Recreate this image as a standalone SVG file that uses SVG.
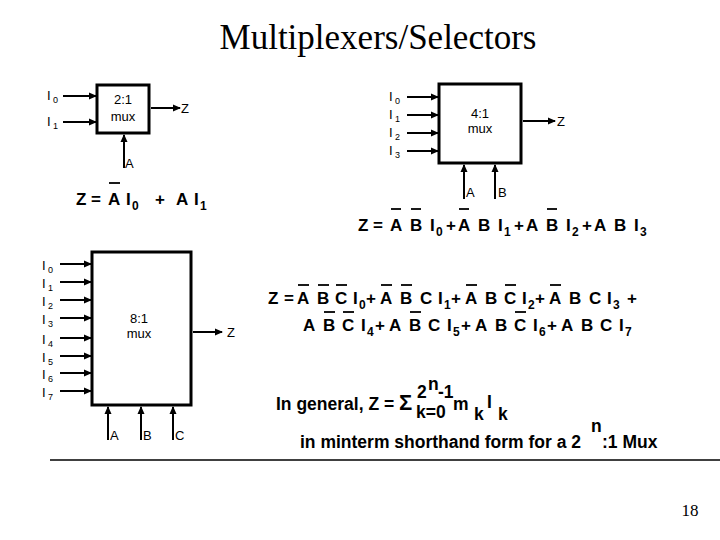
<svg xmlns="http://www.w3.org/2000/svg" width="720" height="540" viewBox="0 0 720 540">
<defs>
<marker id="ah" markerWidth="8" markerHeight="8" refX="7" refY="4" orient="auto" markerUnits="userSpaceOnUse"><path d="M0,0.5 L8,4 L0,7.5z" fill="#000"/></marker>
<style>
.box{fill:#fff;stroke:#000;stroke-width:3}
.w{stroke:#000;stroke-width:2;marker-end:url(#ah)}
.lb{font-family:"Liberation Sans",Arial,sans-serif;font-size:13px;fill:#000}
.sb{font-family:"Liberation Sans",Arial,sans-serif;font-size:9px;fill:#000}
.eq{font-family:"Liberation Sans",Arial,sans-serif;font-size:17px;font-weight:bold;fill:#000}
.es{font-family:"Liberation Sans",Arial,sans-serif;font-size:12px;font-weight:bold;fill:#000}
.g{font-family:"Liberation Sans",Arial,sans-serif;font-size:17.5px;font-weight:bold;fill:#000}
.bar{stroke:#000;stroke-width:1.8}
</style>
</defs>
<rect width="720" height="540" fill="#fff"/>
<text x="378" y="49" text-anchor="middle" font-family="Liberation Serif,Times New Roman,serif" font-size="35">Multiplexers/Selectors</text>

<g id="mux2">
<rect class="box" x="97" y="85" width="52" height="48"/>
<text class="lb" x="123" y="104" text-anchor="middle">2:1</text>
<text class="lb" x="123" y="121" text-anchor="middle">mux</text>
<text class="lb" x="47" y="100">I</text><text class="sb" x="53" y="103">0</text>
<text class="lb" x="47" y="126">I</text><text class="sb" x="53" y="129">1</text>
<text class="lb" x="181" y="113">Z</text>
<text class="lb" x="125" y="168">A</text>
</g>
<g id="mux4">
<rect class="box" x="439" y="84" width="82" height="79"/>
<text class="lb" x="480" y="118" text-anchor="middle">4:1</text>
<text class="lb" x="480" y="133" text-anchor="middle">mux</text>
<text class="lb" x="389" y="101">I</text><text class="sb" x="395" y="104">0</text>
<text class="lb" x="389" y="119">I</text><text class="sb" x="395" y="122">1</text>
<text class="lb" x="389" y="137">I</text><text class="sb" x="395" y="140">2</text>
<text class="lb" x="389" y="155">I</text><text class="sb" x="395" y="158">3</text>
<text class="lb" x="557" y="126">Z</text>
<text class="lb" x="466" y="197">A</text>
<text class="lb" x="498" y="197">B</text>
</g>
<g id="mux8">
<rect class="box" x="92" y="252" width="99" height="153"/>
<text class="lb" x="139" y="323" text-anchor="middle">8:1</text>
<text class="lb" x="139" y="338" text-anchor="middle">mux</text>
<text class="lb" x="42" y="270">I</text><text class="sb" x="48" y="273">0</text>
<text class="lb" x="42" y="288">I</text><text class="sb" x="48" y="291">1</text>
<text class="lb" x="42" y="306">I</text><text class="sb" x="48" y="309">2</text>
<text class="lb" x="42" y="324">I</text><text class="sb" x="48" y="327">3</text>
<text class="lb" x="42" y="344">I</text><text class="sb" x="48" y="347">4</text>
<text class="lb" x="42" y="362">I</text><text class="sb" x="48" y="365">5</text>
<text class="lb" x="42" y="379">I</text><text class="sb" x="48" y="382">6</text>
<text class="lb" x="42" y="397">I</text><text class="sb" x="48" y="400">7</text>
<text class="lb" x="227" y="337">Z</text>
<text class="lb" x="110" y="440">A</text>
<text class="lb" x="143" y="440">B</text>
<text class="lb" x="175" y="440">C</text>
</g>

<g id="connectors">
<line class="w" x1="63" y1="96" x2="96" y2="96"/>
<line class="w" x1="63" y1="122" x2="96" y2="122"/>
<line class="w" x1="151" y1="108" x2="180" y2="108"/>
<line class="w" x1="124" y1="168" x2="124" y2="135"/>
<line class="w" x1="407" y1="97" x2="438" y2="97"/>
<line class="w" x1="407" y1="115" x2="438" y2="115"/>
<line class="w" x1="407" y1="133" x2="438" y2="133"/>
<line class="w" x1="407" y1="151" x2="438" y2="151"/>
<line class="w" x1="523" y1="121" x2="555" y2="121"/>
<line class="w" x1="464" y1="199" x2="464" y2="165"/>
<line class="w" x1="495" y1="199" x2="495" y2="165"/>
<line class="w" x1="60" y1="264" x2="91" y2="264"/>
<line class="w" x1="60" y1="282" x2="91" y2="282"/>
<line class="w" x1="60" y1="300" x2="91" y2="300"/>
<line class="w" x1="60" y1="318" x2="91" y2="318"/>
<line class="w" x1="60" y1="338" x2="91" y2="338"/>
<line class="w" x1="60" y1="356" x2="91" y2="356"/>
<line class="w" x1="60" y1="373" x2="91" y2="373"/>
<line class="w" x1="60" y1="391" x2="91" y2="391"/>
<line class="w" x1="193" y1="332" x2="222" y2="332"/>
<line class="w" x1="108" y1="440" x2="108" y2="407"/>
<line class="w" x1="141" y1="440" x2="141" y2="407"/>
<line class="w" x1="173" y1="440" x2="173" y2="407"/>
</g>

<g id="eq1">
<text class="eq" y="205"><tspan x="76">Z</tspan><tspan x="91">=</tspan><tspan x="108">A</tspan><tspan x="126">I</tspan><tspan x="155">+</tspan><tspan x="176">A</tspan><tspan x="194">I</tspan></text>
<text class="es" x="132" y="210">0</text><text class="es" x="200" y="210">1</text>
<line class="bar" x1="109" y1="183" x2="120" y2="183"/>
</g>
<g id="eq2">
<text class="eq" y="231"><tspan x="358">Z</tspan><tspan x="373">=</tspan><tspan x="390">A</tspan><tspan x="410">B</tspan><tspan x="430">I</tspan><tspan x="446">+</tspan><tspan x="458">A</tspan><tspan x="478">B</tspan><tspan x="498">I</tspan><tspan x="514">+</tspan><tspan x="526">A</tspan><tspan x="546">B</tspan><tspan x="566">I</tspan><tspan x="582">+</tspan><tspan x="594">A</tspan><tspan x="614">B</tspan><tspan x="634">I</tspan></text>
<text class="es" x="436" y="236">0</text><text class="es" x="504" y="236">1</text><text class="es" x="572" y="236">2</text><text class="es" x="640" y="236">3</text>
<line class="bar" x1="391" y1="209" x2="401" y2="209"/>
<line class="bar" x1="411" y1="209" x2="421" y2="209"/>
<line class="bar" x1="459" y1="209" x2="469" y2="209"/>
<line class="bar" x1="547" y1="209" x2="557" y2="209"/>
</g>
<g id="eq3">
<text class="eq" y="304"><tspan x="268">Z</tspan><tspan x="284">=</tspan><tspan x="297">A</tspan><tspan x="317">B</tspan><tspan x="335">C</tspan><tspan x="353">I</tspan><tspan x="366">+</tspan><tspan x="380">A</tspan><tspan x="400">B</tspan><tspan x="420">C</tspan><tspan x="438">I</tspan><tspan x="451">+</tspan><tspan x="465">A</tspan><tspan x="485">B</tspan><tspan x="504">C</tspan><tspan x="522">I</tspan><tspan x="535">+</tspan><tspan x="549">A</tspan><tspan x="569">B</tspan><tspan x="589">C</tspan><tspan x="607">I</tspan><tspan x="627">+</tspan></text>
<text class="es" x="359" y="309">0</text><text class="es" x="444" y="309">1</text><text class="es" x="528" y="309">2</text><text class="es" x="613" y="309">3</text>
<line class="bar" x1="298" y1="285" x2="309" y2="285"/>
<line class="bar" x1="318" y1="285" x2="329" y2="285"/>
<line class="bar" x1="336" y1="285" x2="347" y2="285"/>
<line class="bar" x1="381" y1="285" x2="392" y2="285"/>
<line class="bar" x1="401" y1="285" x2="412" y2="285"/>
<line class="bar" x1="466" y1="285" x2="477" y2="285"/>
<line class="bar" x1="505" y1="285" x2="516" y2="285"/>
<line class="bar" x1="550" y1="285" x2="561" y2="285"/>
<text class="eq" y="331"><tspan x="303">A</tspan><tspan x="323">B</tspan><tspan x="342">C</tspan><tspan x="361">I</tspan><tspan x="375">+</tspan><tspan x="389">A</tspan><tspan x="409">B</tspan><tspan x="428">C</tspan><tspan x="447">I</tspan><tspan x="461">+</tspan><tspan x="475">A</tspan><tspan x="495">B</tspan><tspan x="514">C</tspan><tspan x="533">I</tspan><tspan x="547">+</tspan><tspan x="561">A</tspan><tspan x="581">B</tspan><tspan x="600">C</tspan><tspan x="619">I</tspan></text>
<text class="es" x="367" y="336">4</text><text class="es" x="453" y="336">5</text><text class="es" x="539" y="336">6</text><text class="es" x="625" y="336">7</text>
<line class="bar" x1="324" y1="312" x2="335" y2="312"/>
<line class="bar" x1="343" y1="312" x2="354" y2="312"/>
<line class="bar" x1="410" y1="312" x2="421" y2="312"/>
<line class="bar" x1="515" y1="312" x2="526" y2="312"/>
</g>
<g id="general">
<text class="g" x="276" y="410">In general, Z = <tspan font-size="22px">Σ</tspan></text>
<text class="g" x="417" y="398">2</text>
<text class="g" x="428" y="390">n</text>
<text class="g" x="438" y="398">-1</text>
<text class="g" x="416" y="418">k=0</text>
<text class="g" x="453" y="410">m</text>
<text class="g" x="474" y="420">k</text>
<text class="g" x="487" y="408">I</text>
<text class="g" x="498" y="420">k</text>
<text class="g" x="300" y="448">in minterm shorthand form for a 2</text>
<text class="g" x="591" y="432">n</text>
<text class="g" x="602" y="448">:1 Mux</text>
</g>
<line x1="50" y1="460" x2="720" y2="460" stroke="#000" stroke-width="1.5"/>
<text x="690" y="516" text-anchor="middle" font-family="Liberation Serif,Times New Roman,serif" font-size="17">18</text>
</svg>
